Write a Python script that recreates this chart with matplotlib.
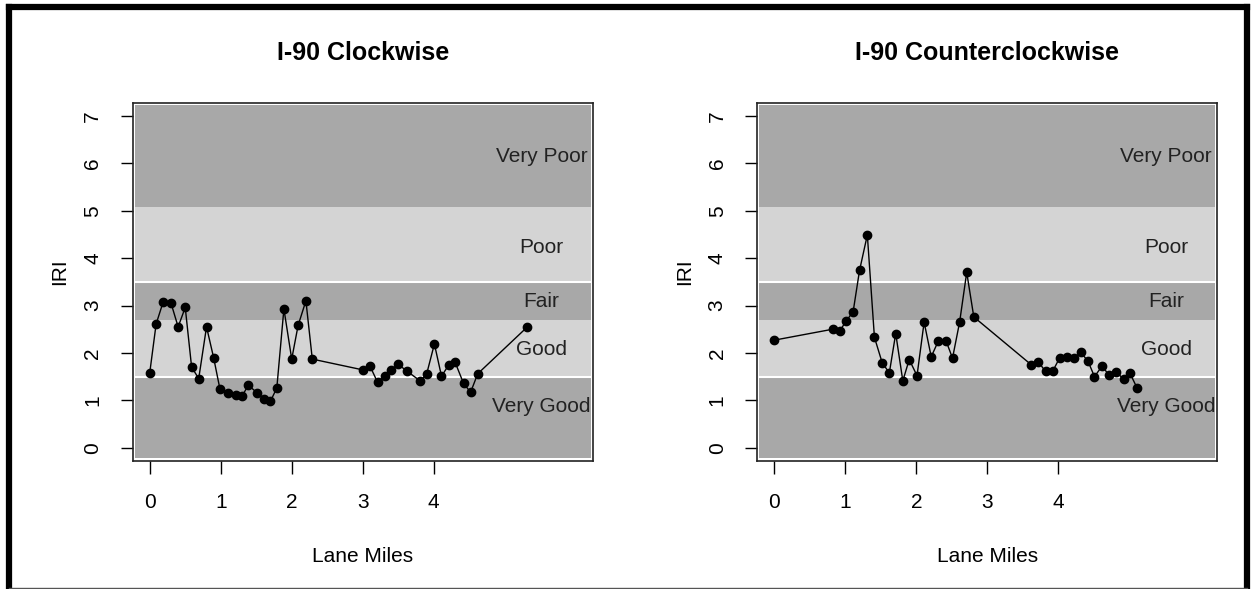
import matplotlib
matplotlib.use("Agg")
import matplotlib.pyplot as plt
from matplotlib.lines import Line2D

plt.rcParams['font.family'] = ['Liberation Sans', 'DejaVu Sans']

# ---- data ----
cw_miles = [0, 0.09, 0.19, 0.30, 0.40, 0.50, 0.59, 0.69, 0.80, 0.90, 0.99, 1.10,
            1.21, 1.30, 1.39, 1.51, 1.61, 1.70, 1.79, 1.89, 2.00, 2.09, 2.20, 2.29,
            3.01, 3.10, 3.21, 3.31, 3.40, 3.50, 3.62, 3.81, 3.90, 4.01, 4.11, 4.21,
            4.30, 4.42, 4.52, 4.62, 5.32]
cw_iri = [1.58, 2.61, 3.08, 3.05, 2.55, 2.96, 1.70, 1.46, 2.55, 1.90, 1.23, 1.15,
          1.11, 1.09, 1.32, 1.16, 1.03, 0.98, 1.26, 2.93, 1.87, 2.58, 3.10, 1.87,
          1.64, 1.73, 1.38, 1.52, 1.64, 1.76, 1.62, 1.41, 1.55, 2.19, 1.51, 1.74,
          1.81, 1.36, 1.17, 1.56, 2.55]

ccw_miles = [0, 0.82, 0.92, 1.01, 1.11, 1.20, 1.31, 1.41, 1.52, 1.62, 1.71, 1.81,
             1.90, 2.01, 2.11, 2.21, 2.31, 2.42, 2.51, 2.61, 2.71, 2.81, 3.62, 3.72,
             3.82, 3.92, 4.02, 4.12, 4.22, 4.32, 4.42, 4.51, 4.62, 4.71, 4.82, 4.92,
             5.01, 5.11]
ccw_iri = [2.27, 2.50, 2.46, 2.67, 2.87, 3.74, 4.49, 2.33, 1.79, 1.58, 2.41, 1.41,
           1.86, 1.52, 2.65, 1.92, 2.25, 2.25, 1.89, 2.65, 3.70, 2.76, 1.75, 1.81,
           1.61, 1.61, 1.90, 1.91, 1.90, 2.01, 1.82, 1.50, 1.73, 1.53, 1.59, 1.45,
           1.57, 1.26]

titles = ["I-90 Clockwise", "I-90 Counterclockwise"]
band_edges = [1.5, 2.7, 3.5, 5.08]
band_names = ["Very Good", "Good", "Fair", "Poor", "Very Poor"]
band_label_y = [0.86, 2.07, 3.08, 4.22, 6.14]
band_colors = ["#a8a8a8", "#d4d4d4", "#a8a8a8", "#d4d4d4", "#a8a8a8"]
x_ticks = [0, 1, 2, 3, 4]
y_ticks = [0, 1, 2, 3, 4, 5, 6, 7]
xlim = (0, 6)
ylim = (0, 7)

W, H = 1255, 589
fig = plt.figure(figsize=(W / 100, H / 100), dpi=100)

FS = 15
series = [(cw_miles, cw_iri), (ccw_miles, ccw_iri)]
lefts_px = [132.7, 757.3]
box_w, top_px, bot_px = 460, 102.7, 461

for i, (xs, ys) in enumerate(series):
    l = lefts_px[i]
    ax = fig.add_axes([l / W, 1 - bot_px / H, box_w / W, (bot_px - top_px) / H])
    xr = xlim[1] - xlim[0]
    yr = ylim[1] - ylim[0]
    x0, x1 = xlim[0] - 0.04 * xr, xlim[1] + 0.04 * xr
    y0, y1 = ylim[0] - 0.04 * yr, ylim[1] + 0.04 * yr
    ax.set_xlim(x0, x1)
    ax.set_ylim(y0, y1)
    ax.set_facecolor("white")
    # bands
    edges = [y0 + 0.06] + band_edges + [y1 - 0.04]
    for k in range(5):
        ax.fill_between([x0 + 0.03, x1 - 0.03], edges[k], edges[k + 1],
                        color=band_colors[k], lw=0, zorder=1)
    for h in [1.5, 3.5]:
        ax.plot([x0 + 0.03, x1 - 0.03], [h, h], color="white", lw=1.5, zorder=2)
    for k in range(5):
        ax.text(5.52, band_label_y[k], band_names[k], ha="center", va="center",
                fontsize=FS, color="#222222", zorder=3)
    ax.plot(xs, ys, color="black", lw=1.0, marker="o", markersize=6, zorder=4)
    ax.set_xticks(x_ticks)
    ax.set_yticks(y_ticks)
    ax.set_yticklabels([str(v) for v in y_ticks], rotation=90, va="center")
    ax.tick_params(axis="both", labelsize=FS, length=9, width=1.0, colors="black")
    ax.tick_params(axis="x", pad=14)
    ax.tick_params(axis="y", pad=13)
    for s in ax.spines.values():
        s.set_linewidth(1.2)
        s.set_color("#222222")
    cx = (l + box_w / 2) / W
    fig.text(cx, 1 - 60 / H, titles[i], ha="center", va="baseline",
             fontsize=18, fontweight="bold")
    fig.text(cx, 1 - 561.7 / H, "Lane Miles", ha="center", va="baseline", fontsize=FS)
    fig.text((l - 73) / W, 1 - 272 / H, "IRI", ha="center", va="center",
             rotation=90, fontsize=FS)

# outer frame
fig.add_artist(Line2D([9 / W, 9 / W], [0, 1 - 7 / H], color="black", lw=4.5,
                      transform=fig.transFigure))
fig.add_artist(Line2D([9 / W, 1247 / W], [1 - 7 / H, 1 - 7 / H], color="black", lw=4.5,
                      transform=fig.transFigure))
fig.add_artist(Line2D([1247 / W, 1247 / W], [0, 1 - 7 / H], color="black", lw=4.5,
                      transform=fig.transFigure))
fig.add_artist(Line2D([9 / W, 1247 / W], [1 / H, 1 / H], color="#555555", lw=1,
                      transform=fig.transFigure))

fig.savefig("out.png", dpi=100)
